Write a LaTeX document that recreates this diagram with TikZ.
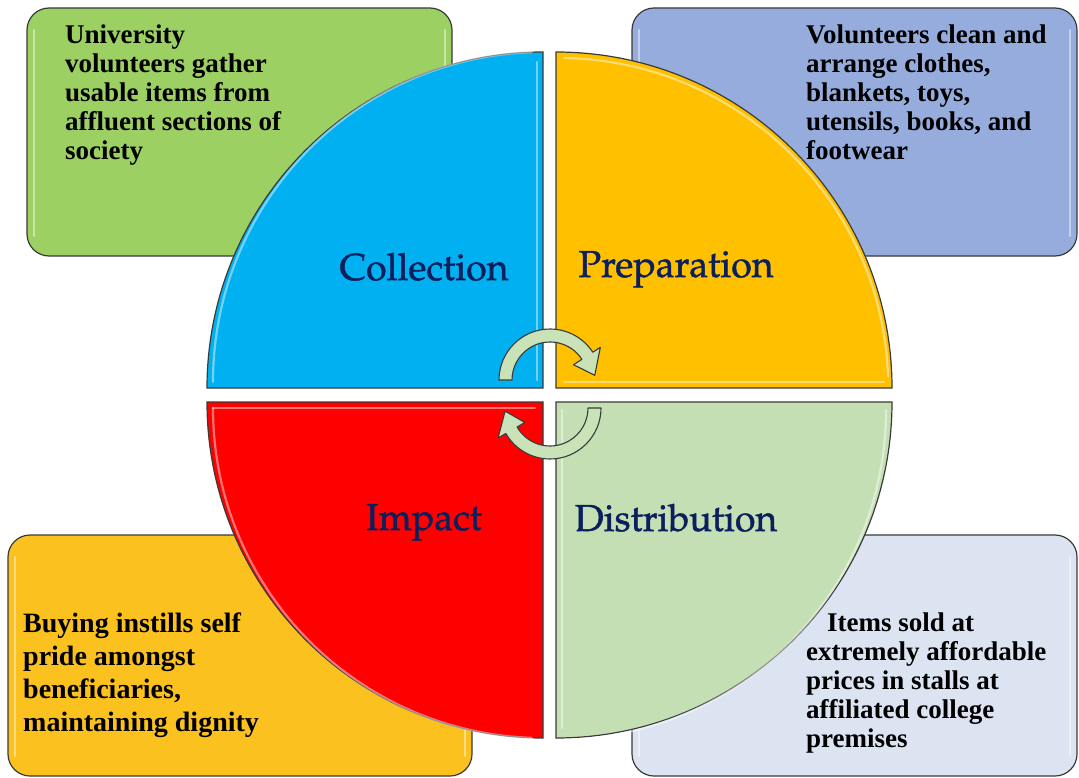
\documentclass[tikz,border=0pt]{standalone}
\usepackage[T1]{fontenc}
\usepackage{fontspec}
\setmainfont{Liberation Serif}
\newcommand\palfont{\fontencoding{T1}\fontfamily{ppl}\selectfont}
\newcommand\heavy[1]{\special{pdf:literal direct 2 Tr 0.45 w}#1\special{pdf:literal direct 0 Tr}}
\definecolor{boxgreen}{HTML}{9CD062}
\definecolor{boxblue}{HTML}{95ACDC}
\definecolor{boxorange}{HTML}{FBC11F}
\definecolor{boxlight}{HTML}{DCE4F2}
\definecolor{qblue}{HTML}{00B0F0}
\definecolor{qyellow}{HTML}{FFC000}
\definecolor{qred}{HTML}{FF0000}
\definecolor{qgreen}{HTML}{C4DFB3}
\definecolor{arrowgreen}{HTML}{C9E2B8}
\definecolor{navy}{HTML}{0B1F5C}
\definecolor{edge}{HTML}{3A3A3A}
\begin{document}
\begin{tikzpicture}[x=1pt,y=-1pt,
  outl/.style={draw=edge, line width=1.2pt},
  infobox/.style={outl, rounded corners=22pt},
  hl/.style={draw=white, draw opacity=0.45, line width=2.2pt, line cap=round},
  steplabel/.style={font=\palfont\fontsize{37.5}{40}\selectfont, text=navy, inner sep=0pt, anchor=base},
  body/.style={font=\bfseries\fontsize{27}{29}\selectfont, align=left, inner sep=0pt, anchor=base west},
  cyc/.style={draw=edge, line width=1.1pt, fill=arrowgreen, line join=round}]
\useasboundingbox (0,0) rectangle (1079,778);
\fill[white] (0,0) rectangle (1079,778);

% info boxes
\draw[infobox, fill=boxgreen] (27,8) rectangle (452,256);
\draw[infobox, fill=boxblue] (632,8) rectangle (1077,256);
\draw[infobox, fill=boxorange] (8,535) rectangle (472,776);
\draw[infobox, fill=boxlight] (632,535) rectangle (1077,776);
\draw[hl] (34,30) -- (34,236);
\draw[hl] (445,30) -- (445,236);
\draw[hl] (639,30) -- (639,236);
\draw[hl] (1070,30) -- (1070,236);
\draw[hl] (15,557) -- (15,756);
\draw[hl] (465,557) -- (465,756);
\draw[hl] (639,557) -- (639,756);
\draw[hl] (1070,557) -- (1070,756);

% quarters
\draw[outl, fill=qblue] (543,388) -- (207,388) arc[start angle=180,end angle=270,radius=336] -- cycle;
\draw[outl, fill=qyellow] (556,388) -- (556,52) arc[start angle=270,end angle=360,radius=336] -- cycle;
\draw[outl, fill=qred] (543,402) -- (543,738) arc[start angle=90,end angle=180,radius=336] -- cycle;
\draw[outl, fill=qgreen] (556,402) -- (892,402) arc[start angle=0,end angle=90,radius=336] -- cycle;
% bevel highlights
\draw[hl] (213,382) arc[start angle=180,end angle=268,radius=330];
\draw[hl] (537,62) -- (537,380);
\draw[hl] (564,58) arc[start angle=271,end angle=358,radius=330];
\draw[hl] (564,382) -- (884,382);
\draw[hl] (213,408) -- (535,408);
\draw[hl] (213,408) arc[start angle=180,end angle=92,radius=330];
\draw[hl] (562,410) -- (562,728);
\draw[hl] (886,410) arc[start angle=0,end angle=88,radius=330];

% cycle arrows
\draw[cyc, shift={(550,380)}] (180:51) arc[start angle=180,end angle=327,radius=51]
  -- (327:60) -- (354:45) -- (327:28) -- (327:38)
  arc[start angle=327,end angle=180,radius=38] -- cycle;
\draw[cyc, shift={(550,408)}] (0:51) arc[start angle=0,end angle=150,radius=51]
  -- (150:60) -- (176:45) -- (150:29) -- (150:38)
  arc[start angle=150,end angle=0,radius=38] -- cycle;

% step labels
\node[steplabel] (collection) at (424,280) {\heavy{Collection}};
\node[steplabel] (preparation) at (676,277) {\heavy{Preparation}};
\node[steplabel] (impact) at (424,530) {\heavy{Impact}};
\node[steplabel] (distribution) at (676,531) {\heavy{Distribution}};

% descriptions (anchor = baseline of last line)
\node[body] (tcollect) at (65,160) {University\\volunteers gather\\usable items from\\affluent sections of\\society};
\node[body] (tprep) at (806,160) {Volunteers clean and\\arrange clothes,\\blankets, toys,\\utensils, books, and\\footwear};
\node[body, font=\bfseries\fontsize{28}{33}\selectfont] (timpact) at (23,731) {Buying instills self\\pride amongst\\beneficiaries,\\maintaining dignity};
\node[body] (tdist) at (806,747) {\hspace*{21pt}Items sold at\\extremely affordable\\prices in stalls at\\affiliated college\\premises};
\end{tikzpicture}
\end{document}
